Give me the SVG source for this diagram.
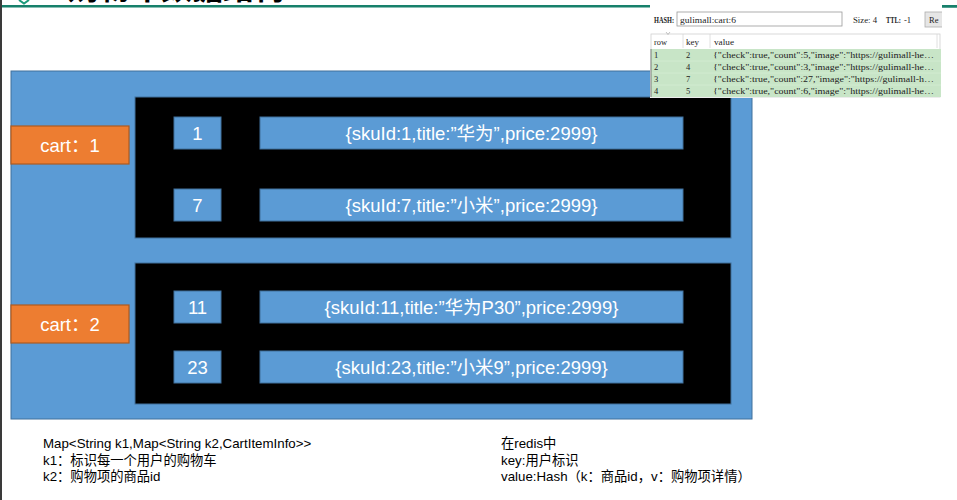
<svg xmlns="http://www.w3.org/2000/svg" width="957" height="500" viewBox="0 0 957 500">
<style>
.blue{fill:#5b9bd5;stroke:#41719c;stroke-width:1}
.blk{fill:#000;stroke:#41719c;stroke-width:1}
.org{fill:#ed7d31;stroke:#ae5a21;stroke-width:1.2}
.wt{fill:#fff;font-family:"Liberation Sans","Noto Sans CJK SC",sans-serif;font-size:18.5px;text-anchor:middle}
.note{fill:#000;font-family:"Liberation Sans","Noto Sans CJK SC",sans-serif;font-size:13.3px}
.mono{fill:#222;font-family:"Liberation Serif","Noto Sans CJK SC",serif;font-size:8.5px}
</style>
<rect x="0" y="0" width="957" height="500" fill="#fff"/>
<rect x="0" y="0" width="2" height="500" fill="#3a3a3a"/>
<g id="title">
<text x="68" y="-1.5" font-family="Noto Sans CJK SC,sans-serif" font-size="31" font-weight="bold" fill="#000">购物车数据结构</text>
<polyline points="19,0 24,3.5 29,0" fill="none" stroke="#1a9a7a" stroke-width="2"/>
<rect x="2" y="5" width="955" height="2.5" fill="#17806b"/>
</g>
<g id="outer"><rect class="blue" x="11" y="71" width="741" height="348"/></g>
<g id="group1"><rect class="blk" x="135" y="97" width="596" height="141"/></g>
<g id="group2"><rect class="blk" x="135" y="263" width="596" height="141"/></g>
<g id="cart1"><rect class="org" x="11" y="126" width="118" height="38"/><text class="wt" x="70" y="151.5">cart：1</text></g>
<g id="cart2"><rect class="org" x="11" y="305" width="118" height="38"/><text class="wt" x="70" y="330.5">cart：2</text></g>
<g id="k1"><rect class="blue" x="174" y="117" width="47" height="32"/><text class="wt" x="197.5" y="139.5">1</text></g>
<g id="k7"><rect class="blue" x="174" y="189" width="47" height="32"/><text class="wt" x="197.5" y="211.5">7</text></g>
<g id="k11"><rect class="blue" x="174" y="291" width="47" height="32"/><text class="wt" x="197.5" y="313.5">11</text></g>
<g id="k23"><rect class="blue" x="174" y="351" width="47" height="32"/><text class="wt" x="197.5" y="373.5">23</text></g>
<g id="v1"><rect class="blue" x="260" y="117" width="423" height="32"/><text class="wt" x="471.5" y="139.5">{skuId:1,title:”华为”,price:2999}</text></g>
<g id="v7"><rect class="blue" x="260" y="189" width="423" height="32"/><text class="wt" x="471.5" y="211.5">{skuId:7,title:”小米”,price:2999}</text></g>
<g id="v11"><rect class="blue" x="260" y="291" width="423" height="32"/><text class="wt" x="471.5" y="313.5">{skuId:11,title:”华为P30”,price:2999}</text></g>
<g id="v23"><rect class="blue" x="260" y="351" width="423" height="32"/><text class="wt" x="471.5" y="373.5">{skuId:23,title:”小米9”,price:2999}</text></g>
<g id="connectors"></g>
<g id="notes-left">
<text class="note" x="43" y="448">Map&lt;String k1,Map&lt;String k2,CartItemInfo&gt;&gt;</text>
<text class="note" x="43" y="464.5">k1：标识每一个用户的购物车</text>
<text class="note" x="43" y="481">k2：购物项的商品id</text>
</g>
<g id="notes-right">
<text class="note" x="501" y="448">在redis中</text>
<text class="note" x="501" y="464.5">key:用户标识</text>
<text class="note" x="501" y="481">value:Hash（k：商品id，v：购物项详情）</text>
</g>
<g id="redis-panel">
<rect x="650" y="0" width="292" height="98" fill="#fff"/>
<text class="mono" x="654" y="23" font-weight="bold" textLength="20" lengthAdjust="spacingAndGlyphs">HASH:</text>
<rect x="677" y="12" width="165" height="14" fill="#fff" stroke="#9a9a9a" stroke-width="0.8"/>
<text class="mono" x="680" y="23" textLength="56" lengthAdjust="spacingAndGlyphs">gulimall:cart:6</text>
<text class="mono" x="853" y="23" textLength="24" lengthAdjust="spacingAndGlyphs">Size: 4</text>
<text class="mono" x="886" y="23" font-weight="bold" textLength="15" lengthAdjust="spacingAndGlyphs">TTL:</text>
<text class="mono" x="904" y="23">-1</text>
<rect x="925" y="12" width="20" height="15" fill="#e6e6e6" stroke="#adadad" stroke-width="0.8"/>
<text class="mono" x="929" y="23">Re</text>
<rect x="942" y="8" width="15" height="92" fill="#fff"/>
<rect x="651" y="34" width="289" height="63" fill="#fff" stroke="#d0d0d0" stroke-width="0.8"/>
<line x1="683" y1="34" x2="683" y2="48" stroke="#d8d8d8" stroke-width="0.8"/>
<line x1="710" y1="34" x2="710" y2="48" stroke="#d8d8d8" stroke-width="0.8"/>
<line x1="937" y1="34" x2="937" y2="48" stroke="#d8d8d8" stroke-width="0.8"/>
<path d="M666,32 l2,2.5 l2,-2.5" fill="none" stroke="#999" stroke-width="0.6"/>
<text class="mono" x="654" y="45" textLength="13" lengthAdjust="spacingAndGlyphs">row</text>
<text class="mono" x="686" y="45" textLength="13" lengthAdjust="spacingAndGlyphs">key</text>
<text class="mono" x="714" y="45" textLength="20" lengthAdjust="spacingAndGlyphs">value</text>
<rect x="651" y="49" width="290" height="48" fill="#c8e5c7"/>
<line x1="651" y1="61" x2="941" y2="61" stroke="#d9eed8" stroke-width="0.6"/>
<line x1="651" y1="73" x2="941" y2="73" stroke="#d9eed8" stroke-width="0.6"/>
<line x1="651" y1="85" x2="941" y2="85" stroke="#d9eed8" stroke-width="0.6"/>
<line x1="651" y1="49" x2="651" y2="97" stroke="#666" stroke-width="0.8"/>
<text class="mono" x="654" y="58">1</text><text class="mono" x="686" y="58">2</text>
<text class="mono" x="713" y="58" textLength="221" lengthAdjust="spacingAndGlyphs">{"check":true,"count":5,"image":"https://gulimall-he…</text>
<text class="mono" x="654" y="70">2</text><text class="mono" x="686" y="70">4</text>
<text class="mono" x="713" y="70" textLength="221" lengthAdjust="spacingAndGlyphs">{"check":true,"count":3,"image":"https://gulimall-he…</text>
<text class="mono" x="654" y="82">3</text><text class="mono" x="686" y="82">7</text>
<text class="mono" x="713" y="82" textLength="221" lengthAdjust="spacingAndGlyphs">{"check":true,"count":27,"image":"https://gulimall-h…</text>
<text class="mono" x="654" y="94">4</text><text class="mono" x="686" y="94">5</text>
<text class="mono" x="713" y="94" textLength="221" lengthAdjust="spacingAndGlyphs">{"check":true,"count":6,"image":"https://gulimall-he…</text>
</g>
<rect x="942" y="5" width="15" height="2.5" fill="#17806b"/>
</svg>
